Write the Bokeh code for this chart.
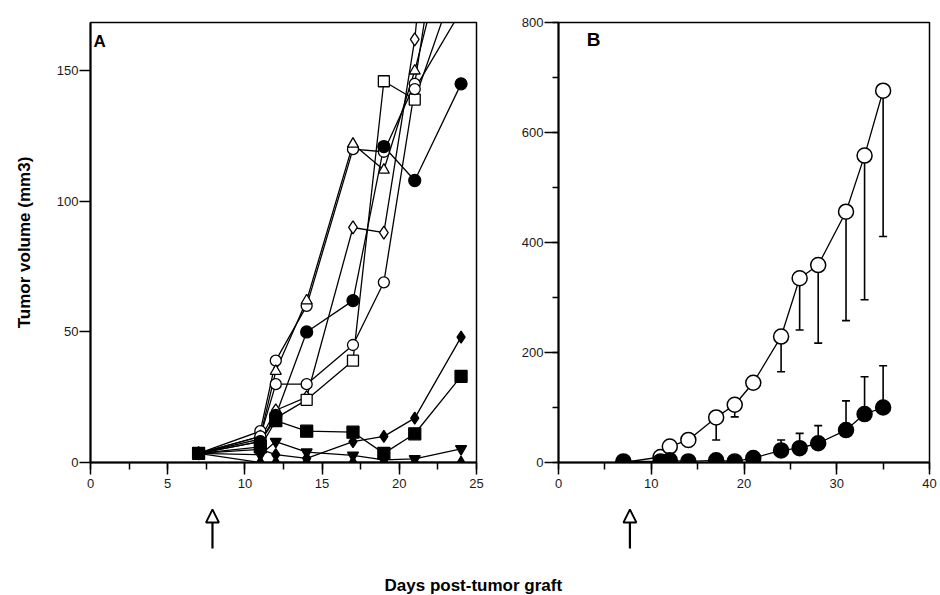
from bokeh.plotting import figure
from bokeh.layouts import column, row
from bokeh.models import (Range1d, SingleIntervalTicker, Label, Whisker, ColumnDataSource,
                          Arrow, NormalHead, TeeHead)
from bokeh.embed import file_html
from bokeh.resources import INLINE

# ---------------- Data: panel A (individual mice) ----------------
days_a = [7, 11, 12, 14, 17, 19, 21, 24]
a_open_circle_1 = [3.5, 12, 39, 60, 120, 119, 145, 260]
a_open_triangle = [3.5, 10, 35, 62, 122, 112, 150, 220]
a_open_diamond = [3.5, 9, 20, 25, 90, 88, 162, 340]
a_open_square = [3.5, 8, 17, 24, 39, 146, 139, 190]
a_open_circle_2 = [3.5, 10, 30, 30, 45, 69, 143, 173]
a_filled_circle = [3.5, 8, 18, 50, 62, 121, 108, 145]
a_filled_diamond = [3.5, 5, 3, 1.6, 8, 10, 17, 48]
a_filled_inv_triangle = [3.5, 3, 8, 4, 2.7, 1, 1.4, 5.2]
a_filled_triangle = [3.5, 0, 0, 0, 0, 0, 0, 0]
a_filled_square = [3.5, 6, 16, 12, 11.6, 3.5, 11, 33]

# ---------------- Data: panel B (group means) ----------------
days_b = [7, 11, 12, 14, 17, 19, 21, 24, 26, 28, 31, 33, 35]
b_open_mean = [0, 10, 29, 41, 82, 105, 145, 229, 335, 359, 456, 558, 676]
b_open_lower_err = [0, 0, 0, 12, 41, 22, 0, 64, 94, 142, 198, 262, 265]
b_filled_mean = [2, 2, 4, 2, 4, 2, 8, 22, 26, 35, 59, 88, 100]
b_filled_upper_err = [0, 0, 0, 0, 0, 0, 0, 19, 27, 32, 53, 68, 76]

# treatment day arrows
treat_day_a = 7.9
treat_day_b = 7.7

FONT = "Liberation Sans"
INK = "black"


def style_axes(p, xint, yint, y_minor):
    p.xaxis.ticker = SingleIntervalTicker(interval=xint, num_minor_ticks=2)
    p.yaxis.ticker = SingleIntervalTicker(interval=yint, num_minor_ticks=2 if y_minor else 0)
    for ax in (p.xaxis[0], p.yaxis[0]):
        ax.axis_line_width = 2
        ax.axis_line_color = INK
        ax.major_tick_line_color = INK
        ax.major_tick_line_width = 1.5
        ax.minor_tick_line_color = INK
        ax.minor_tick_line_width = 1.5
        ax.major_tick_in = 0
        ax.minor_tick_in = 0
        ax.major_label_text_font = FONT
        ax.major_label_text_font_size = "13px"
        ax.major_label_text_color = "#1a1a1a"
    p.xaxis.major_tick_out = 12
    p.xaxis.minor_tick_out = 7
    p.xaxis.major_label_standoff = 4
    p.yaxis.major_tick_out = 11
    p.yaxis.minor_tick_out = 6
    p.yaxis.major_label_standoff = 1
    if not y_minor:
        p.yaxis.minor_tick_line_color = None
    p.grid.visible = False
    p.outline_line_color = INK
    p.outline_line_width = 1.5
    p.background_fill_color = "white"
    p.border_fill_color = "white"


# ---------------- Panel A ----------------
pA = figure(width=490, height=505, x_range=Range1d(0, 25), y_range=Range1d(0, 168.5),
            output_backend="svg", toolbar_location=None,
            min_border_left=90, min_border_right=14, min_border_top=22, min_border_bottom=43)
style_axes(pA, 5, 50, False)
pA.yaxis.axis_label = "Tumor volume (mm3)"
pA.yaxis.axis_label_text_font = FONT
pA.yaxis.axis_label_text_font_style = "bold"
pA.yaxis.axis_label_text_font_size = "17px"
pA.yaxis.axis_label_text_color = INK
pA.yaxis.axis_label_standoff = 20

series_a = [
    (a_open_circle_1, "circle", "white", 11),
    (a_open_triangle, "triangle", "white", 11),
    (a_open_diamond, "diamond", "white", 13),
    (a_open_square, "square", "white", 11),
    (a_open_circle_2, "circle", "white", 11),
    (a_filled_circle, "circle", INK, 12),
    (a_filled_diamond, "diamond", INK, 12),
    (a_filled_inv_triangle, "inverted_triangle", INK, 11),
    (a_filled_triangle, "triangle", INK, 11),
    (a_filled_square, "square", INK, 12),
]
for vals, _, _, _ in series_a:
    pA.line(days_a, vals, line_color=INK, line_width=1.3)
for vals, mk, fill, sz in series_a:
    pA.scatter(days_a, vals, marker=mk, size=sz, fill_color=fill,
               line_color=INK, line_width=1.3)

pA.add_layout(Label(x=0.2, y=165, text="A", text_font=FONT, text_font_style="bold",
                    text_font_size="17px", text_baseline="top", text_align="left",
                    text_color=INK))

# ---------------- Panel B ----------------
pB = figure(width=450, height=505, x_range=Range1d(0, 40), y_range=Range1d(0, 800),
            output_backend="svg", toolbar_location=None,
            min_border_left=68, min_border_right=11, min_border_top=22, min_border_bottom=43)
style_axes(pB, 10, 200, True)
pB.yaxis.major_tick_out = 14

lo_src = ColumnDataSource(data=dict(
    base=[d for d, e in zip(days_b, b_open_lower_err) if e > 0],
    lower=[m - e for m, e in zip(b_open_mean, b_open_lower_err) if e > 0],
    upper=[m for m, e in zip(b_open_mean, b_open_lower_err) if e > 0]))
up_src = ColumnDataSource(data=dict(
    base=[d for d, e in zip(days_b, b_filled_upper_err) if e > 0],
    lower=[m for m, e in zip(b_filled_mean, b_filled_upper_err) if e > 0],
    upper=[m + e for m, e in zip(b_filled_mean, b_filled_upper_err) if e > 0]))
pB.add_layout(Whisker(source=lo_src, base="base", lower="lower", upper="upper",
                      line_width=1.6, line_color=INK, upper_head=None,
                      lower_head=TeeHead(size=8, line_width=1.6, line_color=INK)))
pB.add_layout(Whisker(source=up_src, base="base", lower="lower", upper="upper",
                      line_width=1.6, line_color=INK, lower_head=None,
                      upper_head=TeeHead(size=8, line_width=1.6, line_color=INK)))

pB.line(days_b, b_open_mean, line_color=INK, line_width=1.3)
pB.scatter(days_b, b_open_mean, marker="circle", size=15, fill_color="white",
           line_color=INK, line_width=1.5)
pB.line(days_b, b_filled_mean, line_color=INK, line_width=1.3)
pB.scatter(days_b, b_filled_mean, marker="circle", size=15, fill_color=INK,
           line_color=INK, line_width=1.5)

pB.add_layout(Label(x=3.05, y=788, text="B", text_font=FONT, text_font_style="bold",
                    text_font_size="19px", text_baseline="top", text_align="left",
                    text_color=INK))


# ---------------- Arrow strips ----------------
def arrow_strip(xr, width, bl, br, day):
    f = figure(width=width, height=70, x_range=xr, y_range=Range1d(0, 70),
               output_backend="svg", toolbar_location=None,
               min_border_left=bl, min_border_right=br, min_border_top=0, min_border_bottom=0,
               x_axis_location=None, y_axis_location=None, outline_line_color=None)
    f.grid.visible = False
    f.add_layout(Arrow(end=NormalHead(size=13, fill_color="white", line_color=INK,
                                      line_width=1.8),
                       x_start=day, y_start=27, x_end=day, y_end=66,
                       line_width=2.2, line_color=INK))
    return f


aA = arrow_strip(pA.x_range, 490, 90, 14, treat_day_a)
aB = arrow_strip(pB.x_range, 450, 68, 11, treat_day_b)

# ---------------- Shared x label ----------------
lf = figure(width=940, height=20, x_range=Range1d(0, 1), y_range=Range1d(0, 1),
            output_backend="svg", toolbar_location=None, min_border=0,
            x_axis_location=None, y_axis_location=None, outline_line_color=None)
lf.grid.visible = False
lf.add_layout(Label(x=0.503, y=0.5, text="Days post-tumor graft", text_font=FONT,
                    text_font_style="bold", text_font_size="17px",
                    text_align="center", text_baseline="middle", text_color=INK))

layout = column(row(pA, pB), row(aA, aB), lf)
open("out.html", "w").write(file_html(layout, INLINE))
